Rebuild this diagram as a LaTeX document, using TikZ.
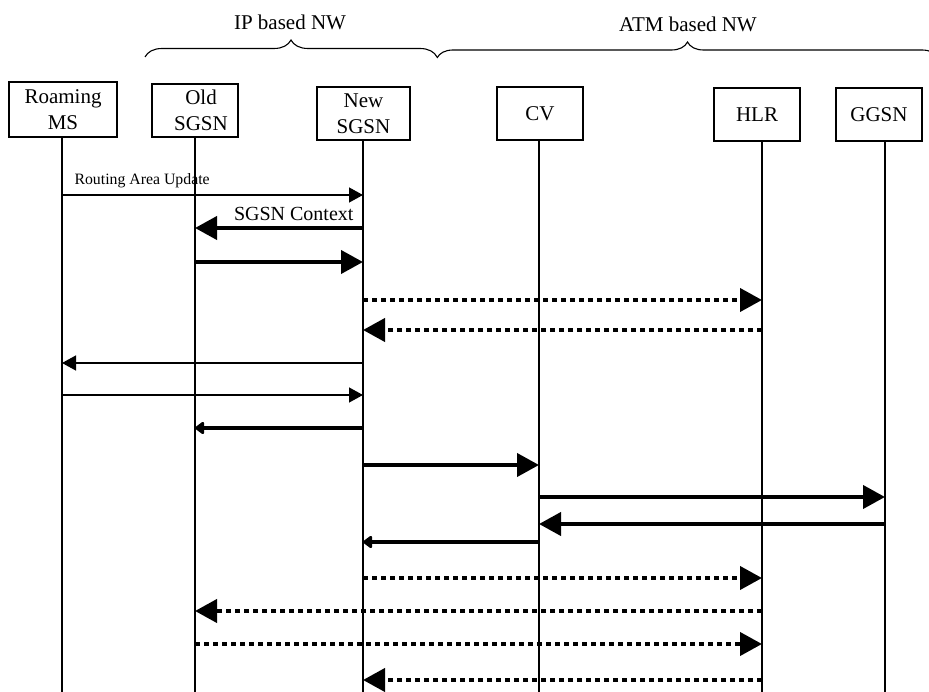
\documentclass[tikz,border=0pt]{standalone}
\usepackage{fontspec}
\setmainfont{Liberation Serif}
\usepackage{tikz}
\usetikzlibrary{arrows.meta,decorations.pathreplacing}

\tikzset{
  entity/.style={rectangle, draw, line width=1.3pt, align=center, inner sep=0pt,
                 font=\fontsize{21}{26}\selectfont},
  lifeline/.style={line width=1.3pt},
  thinmsg/.style={line width=1.3pt, -{Triangle[length=14pt,width=15pt]}},
  boldmsg/.style={line width=4pt, -{Triangle[length=22pt,width=23pt]}},
  boldshort/.style={line width=4pt, -{Triangle[length=10pt,width=14pt,round]}},
  dotmsg/.style={boldmsg, dash pattern=on 5pt off 4pt},
  netbrace/.style={decorate, decoration={brace, amplitude=#1}, line width=1.1pt}
}

\begin{document}
\begin{tikzpicture}[x=1pt,y=-1pt]
    \useasboundingbox (0,0) rectangle (929,692);

    \node[entity, minimum width=108pt, minimum height=55pt] (ms) at (63,109.5) {Roaming\\MS};
    \node[entity, minimum width=86pt, minimum height=53pt] (old) at (195,110.5) {\hspace*{12pt}Old\\\hspace*{12pt}SGSN};
    \node[entity, minimum width=93pt, minimum height=53pt] (new) at (363.5,113.5) {New\\SGSN};
    \node[entity, minimum width=86pt, minimum height=53pt] (cv) at (540,113.5) {CV};
    \node[entity, minimum width=86pt, minimum height=53pt] (hlr) at (757,114.5) {HLR};
    \node[entity, minimum width=86pt, minimum height=53pt] (ggsn) at (879,114.5) {GGSN};

    \draw[netbrace=17pt] (145,57) -- (437,57);
    \draw[netbrace=16pt] (437,58) -- (938,58);
    \node[font=\fontsize{21}{25}\selectfont] (ipnw) at (290,22) {IP based NW};
    \node[font=\fontsize{21}{25}\selectfont] (atmnw) at (688,24) {ATM based NW};

    \foreach \n/\x in {ms/62, old/195, new/363, cv/539, hlr/762, ggsn/885}{
      \coordinate (\n-top) at (\n.south -| \x,0);
      \draw[lifeline] (\n-top) -- (\n-top |- 0,692);
    }

    \foreach \a/\b/\y/\s in {ms/new/195/thinmsg, new/old/228/boldmsg, old/new/262/boldmsg,
        new/hlr/300/dotmsg, hlr/new/330/dotmsg, new/ms/363/thinmsg, ms/new/395/thinmsg,
        new/old/428/boldshort, new/cv/465/boldmsg, cv/ggsn/497/boldmsg, ggsn/cv/524/boldmsg,
        cv/new/542/boldshort, new/hlr/578/dotmsg, hlr/old/611/dotmsg, old/hlr/644/dotmsg,
        hlr/new/680/dotmsg}
      \draw[\s] (\a-top |- 0,\y) -- (\b-top |- 0,\y);

    \node[font=\fontsize{15.8}{18}\selectfont, anchor=base west] (rau) at (71,185) {Routing Area Update};
    \node[font=\fontsize{20}{24}\selectfont, anchor=base east] (ctx) at (357,221) {SGSN Context};
\end{tikzpicture}
\end{document}
